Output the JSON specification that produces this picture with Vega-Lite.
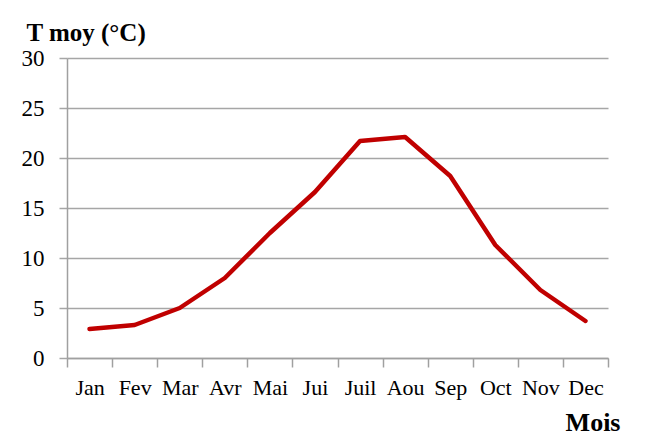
{
  "$schema": "https://vega.github.io/schema/vega-lite/v6.json",
  "width": 541,
  "height": 300,
  "autosize": {"type": "none"},
  "padding": {"left": 67, "top": 58, "right": 41, "bottom": 90},
  "background": "white",
  "config": {
    "view": {"stroke": null},
    "font": "Liberation Serif"
  },
  "data": {
    "values": [
      {"mois": "Jan", "t": 2.9},
      {"mois": "Fev", "t": 3.3},
      {"mois": "Mar", "t": 5.0},
      {"mois": "Avr", "t": 8.0},
      {"mois": "Mai", "t": 12.5},
      {"mois": "Jui", "t": 16.6},
      {"mois": "Juil", "t": 21.7},
      {"mois": "Aou", "t": 22.1},
      {"mois": "Sep", "t": 18.2},
      {"mois": "Oct", "t": 11.3},
      {"mois": "Nov", "t": 6.8},
      {"mois": "Dec", "t": 3.7}
    ]
  },
  "mark": {"type": "line", "color": "#c00000", "strokeWidth": 4.5, "strokeJoin": "round", "strokeCap": "round"},
  "encoding": {
    "x": {
      "field": "mois",
      "type": "nominal",
      "sort": null,
      "scale": {"type": "band", "paddingInner": 0, "paddingOuter": 0},
      "axis": {
        "title": "Mois",
        "titleFont": "Liberation Serif",
        "titleFontSize": 26,
        "titleFontWeight": "bold",
        "titleColor": "black",
        "titleAlign": "right",
        "titleBaseline": "alphabetic",
        "titleAnchor": null,
        "titleX": 553,
        "titleY": 72,
        "labelAngle": 0,
        "labelFont": "Liberation Serif",
        "labelFontSize": 22,
        "labelColor": "black",
        "labelBaseline": "alphabetic",
        "labelPadding": 27,
        "tickBand": "extent",
        "tickSize": 9,
        "tickColor": "#a0a0a0",
        "tickWidth": 1.5,
        "domainColor": "#a0a0a0",
        "domainWidth": 1.5,
        "grid": false
      }
    },
    "y": {
      "field": "t",
      "type": "quantitative",
      "scale": {"domain": [0, 30], "nice": false},
      "axis": {
        "title": "T moy (°C)",
        "titleFont": "Liberation Serif",
        "titleFontSize": 25,
        "titleFontWeight": "bold",
        "titleColor": "black",
        "titleAngle": 0,
        "titleAlign": "left",
        "titleBaseline": "alphabetic",
        "titleAnchor": null,
        "titleX": -41,
        "titleY": -18,
        "values": [0, 5, 10, 15, 20, 25, 30],
        "labelFont": "Liberation Serif",
        "labelFontSize": 23,
        "labelColor": "black",
        "labelPadding": 15,
        "tickSize": 8,
        "tickColor": "#a6a6a6",
        "tickWidth": 1.5,
        "domainColor": "#a0a0a0",
        "domainWidth": 1.5,
        "grid": true,
        "gridColor": "#a6a6a6",
        "gridWidth": 1.5
      }
    }
  }
}
